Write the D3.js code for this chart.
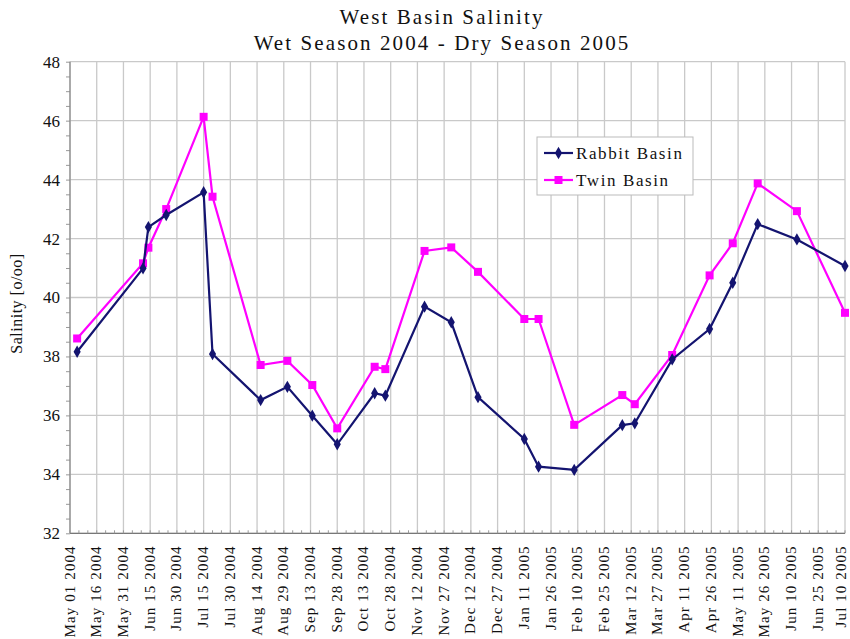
<!DOCTYPE html>
<html>
<head>
<meta charset="utf-8">
<script src="https://cdn.jsdelivr.net/npm/d3@7"></script>
<style>
  body { margin: 0; background: #fff; }
  svg { display: block; }
  text { font-family: "Liberation Serif", "Times New Roman", serif; fill: #111; }
</style>
</head>
<body>
<svg id="chart" width="850" height="639"></svg>
<script>
// Sampling dates shared by both basins
const sampleDates = [
  "2004-05-05", "2004-06-11", "2004-06-14", "2004-06-24", "2004-07-15", "2004-07-20",
  "2004-08-16", "2004-08-31", "2004-09-14", "2004-09-28", "2004-10-19", "2004-10-25",
  "2004-11-16", "2004-12-01", "2004-12-16", "2005-01-11", "2005-01-19", "2005-02-08",
  "2005-03-07", "2005-03-14", "2005-04-04", "2005-04-25", "2005-05-08", "2005-05-22",
  "2005-06-13", "2005-07-10"
];
const rabbitBasin = [
  38.16, 40.99, 42.39, 42.80, 43.57, 38.08,
  36.52, 36.97, 35.99, 35.02, 36.75, 36.67,
  39.69, 39.16, 36.62, 35.20, 34.26, 34.15,
  35.67, 35.73, 37.90, 38.93, 40.50, 42.49,
  41.97, 41.07
];
const twinBasin = [
  38.61, 41.16, 41.69, 43.00, 46.13, 43.42,
  37.71, 37.85, 37.03, 35.56, 37.65, 37.57,
  41.58, 41.70, 40.87, 39.27, 39.27, 35.68,
  36.69, 36.38, 38.05, 40.75, 41.84, 43.87,
  42.93, 39.48
];
const yTicks = [32, 34, 36, 38, 40, 42, 44, 46, 48];
const titleLines = ["West Basin Salinity", "Wet Season 2004 - Dry Season 2005"];
const seriesNames = ["Rabbit Basin", "Twin Basin"];

const parse = d3.timeParse("%Y-%m-%d");
const svg = d3.select("#chart");
const margin = { left: 70, right: 5, top: 61.7, bottom: 105.7 };
const W = 850, H = 639;

const startDate = parse("2004-05-01");
const endDate = parse("2005-07-10");
const x = d3.scaleTime().domain([startDate, endDate]).range([margin.left, W - margin.right]);
const y = d3.scaleLinear().domain([32, 48]).range([H - margin.bottom, margin.top]);

const majorTicks = d3.timeDay.range(startDate, d3.timeDay.offset(endDate, 1), 15);
const minorTicks = d3.timeDay.range(startDate, d3.timeDay.offset(endDate, 1), 5);
const fmt = d3.timeFormat("%b %d %Y");

// Grid
const grid = svg.append("g");
grid.selectAll(".vg").data(majorTicks).join("line")
  .attr("x1", d => x(d)).attr("x2", d => x(d))
  .attr("y1", y(32)).attr("y2", y(48))
  .attr("stroke", "#c9c9c9").attr("stroke-width", 1.3);
grid.selectAll(".hg").data(yTicks).join("line")
  .attr("x1", x(startDate)).attr("x2", x(endDate))
  .attr("y1", d => y(d)).attr("y2", d => y(d))
  .attr("stroke", "#c9c9c9").attr("stroke-width", 1.3);

// Y axis with half-unit minor ticks
const yAxis = svg.append("g").attr("transform", `translate(${margin.left},0)`);
yAxis.call(d3.axisLeft(y).tickValues(d3.range(32, 48.01, 0.5)).tickSize(4).tickFormat(""))
  .call(g => g.select(".domain").remove())
  .selectAll("line").attr("stroke", "#999");
yAxis.append("line").attr("y1", y(32)).attr("y2", y(48)).attr("stroke", "#888").attr("stroke-width", 1.2);
yAxis.selectAll(".ylab").data(yTicks).join("text")
  .attr("x", -10).attr("y", d => y(d)).attr("dy", "0.35em")
  .attr("text-anchor", "end").attr("font-size", 17).text(d => d);

// X axis: rotated date labels, kept inside the right edge of the page
const xAxis = svg.append("g").attr("transform", `translate(0,${y(32)})`);
xAxis.append("line").attr("x1", x(startDate)).attr("x2", x(endDate)).attr("stroke", "#777").attr("stroke-width", 1.3);
xAxis.selectAll(".mt").data(minorTicks).join("line")
  .attr("x1", d => x(d)).attr("x2", d => x(d)).attr("y1", 0).attr("y2", -3)
  .attr("stroke", "#999");
xAxis.selectAll(".xlab").data(majorTicks).join("text")
  .attr("transform", d => `translate(${Math.min(x(d) + 4.5, W - 4)},12) rotate(-90)`)
  .attr("text-anchor", "end").attr("font-size", 15).attr("letter-spacing", 1.1)
  .text(d => fmt(d));

// Y title
svg.append("text").attr("transform", `translate(22,${(y(32) + y(48)) / 2 + 6}) rotate(-90)`)
  .attr("text-anchor", "middle").attr("font-size", 16).attr("letter-spacing", 0.5)
  .text("Salinity [o/oo]");

// Title
svg.selectAll(".title").data(titleLines).join("text")
  .attr("x", 442).attr("y", (d, i) => 24 + i * 26)
  .attr("text-anchor", "middle").attr("font-size", 21).attr("letter-spacing", 2.1)
  .text(d => d);

// Series
const series = [
  { name: seriesNames[0], values: rabbitBasin, color: "#141470", shape: d3.symbolDiamond, size: 44 },
  { name: seriesNames[1], values: twinBasin, color: "#ff00ff", shape: d3.symbolSquare, size: 64 }
];
const line = d3.line().x(d => x(d.date)).y(d => y(d.v));

series.forEach(s => {
  s.pts = sampleDates.map((d, i) => ({ date: parse(d), v: s.values[i] }));
});
// Draw Twin first so Rabbit sits on top where they cross
[series[1], series[0]].forEach(s => {
  svg.append("path").datum(s.pts).attr("d", line)
    .attr("fill", "none").attr("stroke", s.color).attr("stroke-width", 2.2);
  svg.selectAll(null).data(s.pts).join("path")
    .attr("transform", d => `translate(${x(d.date)},${y(d.v)})`)
    .attr("d", d3.symbol().type(s.shape).size(s.size))
    .attr("fill", s.color);
});

// Legend
const lg = svg.append("g").attr("transform", "translate(537,137)");
lg.append("rect").attr("width", 156).attr("height", 58)
  .attr("fill", "#fff").attr("stroke", "#bbb").attr("stroke-width", 1);
series.forEach((s, i) => {
  const cy = 16 + i * 27;
  lg.append("line").attr("x1", 7).attr("x2", 36).attr("y1", cy).attr("y2", cy)
    .attr("stroke", s.color).attr("stroke-width", 2.2);
  lg.append("path").attr("transform", `translate(21.5,${cy})`)
    .attr("d", d3.symbol().type(s.shape).size(s.size)).attr("fill", s.color);
  lg.append("text").attr("x", 39).attr("y", cy).attr("dy", "0.35em")
    .attr("font-size", 17).attr("letter-spacing", 1.6).text(s.name);
});
</script>
</body>
</html>
